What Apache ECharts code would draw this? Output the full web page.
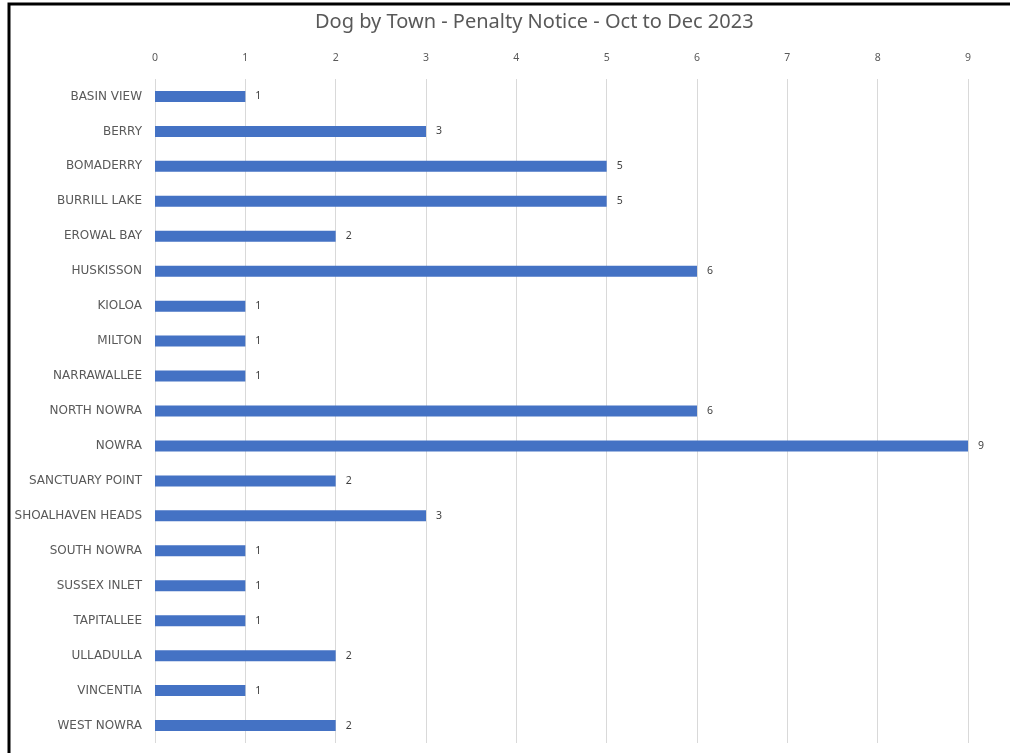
<!DOCTYPE html>
<html><head><meta charset="utf-8">
<script src="https://cdn.jsdelivr.net/npm/echarts@6/dist/echarts.min.js"></script>
<style>html,body{margin:0;padding:0;background:#fff}#c{width:1010px;height:753px}</style>
</head><body><div id="c"></div>
<script>
const title = 'Dog by Town - Penalty Notice - Oct to Dec 2023';
const towns = ['BASIN VIEW','BERRY','BOMADERRY','BURRILL LAKE','EROWAL BAY','HUSKISSON','KIOLOA','MILTON','NARRAWALLEE','NORTH NOWRA','NOWRA','SANCTUARY POINT','SHOALHAVEN HEADS','SOUTH NOWRA','SUSSEX INLET','TAPITALLEE','ULLADULLA','VINCENTIA','WEST NOWRA'];
const counts = [1,3,5,5,2,6,1,1,1,6,9,2,3,1,1,1,2,1,2];

const chart = echarts.init(document.getElementById('c'));
const font = 'Noto Sans';
chart.setOption({
  animation:false,
  title:{text:title,left:310,top:7,textStyle:{fontFamily:font,fontSize:20,fontWeight:'normal',color:'#595959'}},
  graphic:[{type:'rect',shape:{x:9,y:4,width:1020,height:770},style:{fill:'none',stroke:'#000',lineWidth:3},silent:true}],
  grid:{left:155,right:42,top:79,bottom:10},
  xAxis:{type:'value',position:'top',min:0,max:9,interval:1,
    axisLine:{show:false},axisTick:{show:false},
    axisLabel:{fontFamily:font,fontSize:10.5,color:'#595959',margin:15},
    splitLine:{lineStyle:{color:'#d9d9d9',width:1}}},
  yAxis:{type:'category',data:towns,inverse:true,
    axisLine:{show:false},axisTick:{show:false},
    axisLabel:{fontFamily:'DejaVu Sans',fontSize:12,color:'#595959',margin:13}},
  series:[{type:'bar',data:counts,barWidth:11,itemStyle:{color:'#4472C4'},
    label:{show:true,position:'right',distance:10,fontFamily:font,fontSize:10.5,color:'#404040',padding:[3,0,0,0]}}]
});
</script></body></html>
